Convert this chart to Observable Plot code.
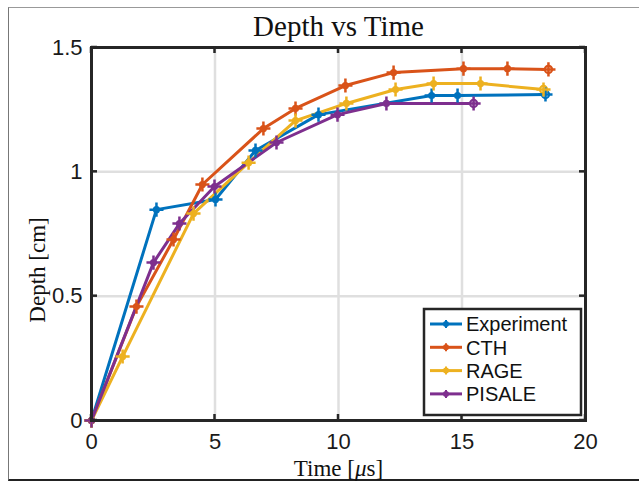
<!DOCTYPE html>
<html><head><meta charset="utf-8">
<script src="https://cdn.jsdelivr.net/npm/d3@7"></script>
<script src="https://cdn.jsdelivr.net/npm/@observablehq/plot@0.6"></script>
<style>
body{margin:0;background:#fff;}
#wrap{position:relative;width:639px;height:485px;overflow:hidden;background:#fff;}
#border{position:absolute;left:8px;top:7px;width:700px;height:471px;border-left:1px solid #777;border-top:1px solid #999;border-bottom:2px solid #222;}
#chart{position:absolute;left:0;top:0;}
</style></head><body>
<div id="wrap"><div id="border"></div><div id="chart"></div></div>
<script>
const seriesNames = ["Experiment", "CTH", "RAGE", "PISALE"];
const seriesColors = ["#0072BD", "#D95319", "#EDB120", "#7E2F8E"];
const expTime  = [0, 2.63, 5.02, 6.64, 9.19, 13.77, 14.82, 18.38];
const expDepth = [0, 0.848, 0.889, 1.086, 1.230, 1.307, 1.307, 1.311];
const cthTime  = [0, 1.82, 3.32, 4.49, 6.96, 8.26, 10.28, 12.23, 15.06, 16.84, 18.5];
const cthDepth = [0, 0.458, 0.728, 0.949, 1.174, 1.255, 1.347, 1.399, 1.415, 1.415, 1.412];
const rageTime  = [0, 1.26, 4.13, 6.36, 8.26, 10.32, 12.31, 13.85, 15.75, 18.3];
const rageDepth = [0, 0.257, 0.832, 1.037, 1.206, 1.275, 1.331, 1.355, 1.355, 1.331];
const pisaleTime  = [0, 2.51, 3.56, 4.98, 7.49, 9.96, 11.94, 15.47];
const pisaleDepth = [0, 0.635, 0.792, 0.941, 1.118, 1.230, 1.275, 1.275];
const xTicks = [0, 5, 10, 15, 20];
const yTicks = [0, 0.5, 1, 1.5];
const xTickLabels = ["0", "5", "10", "15", "20"];
const yTickLabels = ["0", "0.5", "1", "1.5"];

const times = [expTime, cthTime, rageTime, pisaleTime];
const depths = [expDepth, cthDepth, rageDepth, pisaleDepth];
const rows = [];
seriesNames.forEach((s, i) => {
  times[i].forEach((t, j) => rows.push({series: s, time: t, depth: depths[i][j], last: j === times[i].length - 1}));
});
const colorOf = Object.fromEntries(seriesNames.map((s, i) => [s, seriesColors[i]]));
const axisColor = "#262626";
const sans = "'Liberation Sans', Arial, Helvetica, sans-serif";
const serif = "'Liberation Serif', 'Times New Roman', serif";

const chart = Plot.plot({
  width: 639, height: 485,
  marginLeft: 91, marginRight: 54, marginTop: 47, marginBottom: 65,
  x: {domain: [0, 20]},
  y: {domain: [0, 1.5]},
  style: {fontFamily: sans, fontSize: "22px", color: axisColor, background: "transparent", overflow: "visible"},
  marks: [
    Plot.gridX(xTicks, {stroke: "#dfdfdf", strokeOpacity: 1, strokeWidth: 2.5}),
    Plot.gridY(yTicks, {stroke: "#dfdfdf", strokeOpacity: 1, strokeWidth: 2.5}),
    Plot.axisX(xTicks, {anchor: "bottom", tickSize: 0, tickPadding: 13, label: null, tickFormat: d => xTickLabels[xTicks.indexOf(d)], fontSize: 22, fill: "#1a1a1a"}),
    Plot.axisY(yTicks, {anchor: "left", tickSize: 0, tickPadding: 9, label: null, tickFormat: d => yTickLabels[yTicks.indexOf(d)], fontSize: 22, fill: "#1a1a1a"}),
    Plot.line(rows, {x: "time", y: "depth", z: "series", stroke: d => colorOf[d.series], strokeWidth: 3}),
    Plot.dot(rows, {x: "time", y: "depth", r: 3.6, fill: d => d.last ? "white" : colorOf[d.series], stroke: d => colorOf[d.series], strokeWidth: d => d.last ? 2.2 : 0}),
    Plot.dot(rows, {x: "time", y: "depth", symbol: "plus", r: 4.6, stroke: d => colorOf[d.series], strokeWidth: 2.5}),
    Plot.frame({stroke: axisColor, strokeWidth: 3}),
    Plot.text(["Depth vs Time"], {frameAnchor: "top", dy: -21, text: d => d, fontFamily: serif, fontSize: 29, fill: "#111", lineAnchor: "middle"}),
    Plot.text(["Time [μs]"], {frameAnchor: "bottom", dy: 48, text: d => d, fontFamily: serif, fontSize: 23, fill: "#111", lineAnchor: "middle"}),
    Plot.text(["Depth [cm]"], {frameAnchor: "left", textAnchor: "middle", dx: -54, dy: 36, rotate: -90, text: d => d, fontFamily: serif, fontSize: 23, fill: "#111", lineAnchor: "middle"})
  ]
});
document.getElementById("chart").appendChild(chart);

const svg = d3.select(chart);
// italic mu as in the LaTeX label
svg.selectAll("text").filter(function() { return this.textContent === "Time [μs]"; }).each(function() {
  const t = d3.select(this);
  t.text(null);
  t.append("tspan").text("Time [");
  t.append("tspan").attr("font-style", "italic").text("μ");
  t.append("tspan").text("s]");
});
const sx = chart.scale("x"), sy = chart.scale("y");
const X0 = sx.apply(0), X1 = sx.apply(20), Y0 = sy.apply(0), Y1 = sy.apply(1.5);
// inward ticks
const tk = svg.append("g").attr("stroke", axisColor).attr("stroke-width", 2.5);
xTicks.forEach(v => {
  const x = sx.apply(v);
  tk.append("line").attr("x1", x).attr("x2", x).attr("y1", Y0).attr("y2", Y0 - 6);
  tk.append("line").attr("x1", x).attr("x2", x).attr("y1", Y1).attr("y2", Y1 + 6);
});
yTicks.forEach(v => {
  const y = sy.apply(v);
  tk.append("line").attr("x1", X0).attr("x2", X0 + 6).attr("y1", y).attr("y2", y);
  tk.append("line").attr("x1", X1).attr("x2", X1 - 6).attr("y1", y).attr("y2", y);
});

// legend
const lg = svg.append("g");
lg.append("rect").attr("x", 424).attr("y", 309).attr("width", 157).attr("height", 106)
  .attr("fill", "white").attr("stroke", axisColor).attr("stroke-width", 2.5);
seriesNames.forEach((s, i) => {
  const y = 324 + i * 23.3;
  const c = seriesColors[i];
  lg.append("line").attr("x1", 430).attr("x2", 462).attr("y1", y).attr("y2", y).attr("stroke", c).attr("stroke-width", 3);
  lg.append("circle").attr("cx", 446).attr("cy", y).attr("r", 3).attr("fill", c);
  lg.append("path").attr("d", `M442,${y}H450M446,${y-4}V${y+4}`).attr("stroke", c).attr("stroke-width", 2);
  lg.append("text").attr("x", 466).attr("y", y).attr("dy", "0.36em").attr("text-anchor", "start")
    .attr("font-family", sans).attr("font-size", 20).attr("fill", "#111").text(s);
});
</script>
</body></html>
